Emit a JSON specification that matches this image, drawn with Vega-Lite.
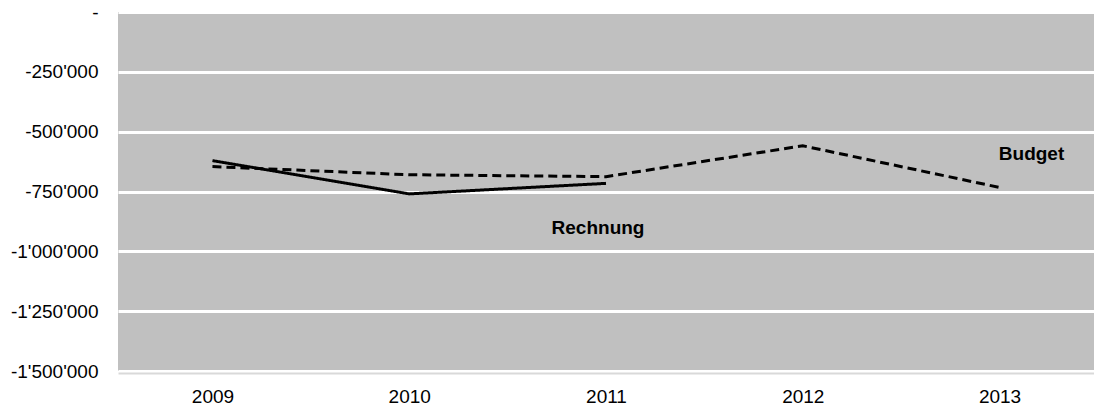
{
  "$schema": "https://vega.github.io/schema/vega-lite/v6.json",
  "width": 976,
  "height": 359,
  "autosize": {"type": "none"},
  "padding": {"left": 118, "top": 12, "right": 0, "bottom": 34},
  "config": {
    "view": {"fill": "#c0c0c0", "stroke": null},
    "font": "Liberation Sans",
    "locale": {"number": {"decimal": ".", "thousands": "'", "grouping": [3], "currency": ["", ""], "minus": "-"}}
  },
  "datasets": {
    "lines": [
      {"year": "2009", "series": "Rechnung", "value": -621000},
      {"year": "2010", "series": "Rechnung", "value": -760000},
      {"year": "2011", "series": "Rechnung", "value": -716000},
      {"year": "2009", "series": "Budget", "value": -646000},
      {"year": "2010", "series": "Budget", "value": -680000},
      {"year": "2011", "series": "Budget", "value": -688000},
      {"year": "2012", "series": "Budget", "value": -559000},
      {"year": "2013", "series": "Budget", "value": -733000}
    ],
    "labels": [
      {"year": "2011", "series": "Rechnung", "value": -902000},
      {"year": "2013", "series": "Budget", "value": -593000}
    ]
  },
  "encoding": {
    "x": {
      "field": "year", "type": "ordinal",
      "scale": {"type": "point", "domain": ["2009", "2010", "2011", "2012", "2013"], "padding": 0.48},
      "axis": {"title": null, "labelAngle": 0, "ticks": false, "domainColor": "#d9d9d9", "domainWidth": 2, "offset": 2, "labelPadding": 14, "labelFontSize": 19, "labelColor": "black", "grid": false}
    },
    "y": {
      "field": "value", "type": "quantitative",
      "scale": {"domain": [-1500000, 0], "nice": false},
      "axis": {
        "title": null, "values": [0, -250000, -500000, -750000, -1000000, -1250000, -1500000],
        "labelExpr": "datum.value == 0 ? '-\u00a0\u00a0\u00a0' : format(datum.value, ',.0f')",
        "domain": false, "ticks": false, "labelPadding": 20, "labelFontSize": 19, "labelColor": "black",
        "grid": true, "gridColor": "white", "gridWidth": 3, "gridOpacity": 1
      }
    }
  },
  "layer": [
    {
      "data": {"name": "lines"},
      "mark": {"type": "line", "strokeWidth": 3, "color": "black"},
      "encoding": {
        "detail": {"field": "series"},
        "strokeDash": {"field": "series", "type": "nominal", "scale": {"domain": ["Rechnung", "Budget"], "range": [[1, 0], [9, 5]]}, "legend": null}
      }
    },
    {
      "data": {"name": "labels"},
      "transform": [{"filter": "datum.series == 'Rechnung'"}],
      "mark": {"type": "text", "fontWeight": "bold", "fontSize": 19, "color": "black", "dx": -8},
      "encoding": {"text": {"field": "series"}}
    },
    {
      "data": {"name": "labels"},
      "transform": [{"filter": "datum.series == 'Budget'"}],
      "mark": {"type": "text", "fontWeight": "bold", "fontSize": 19, "color": "black", "dx": 32},
      "encoding": {"text": {"field": "series"}}
    }
  ]
}
